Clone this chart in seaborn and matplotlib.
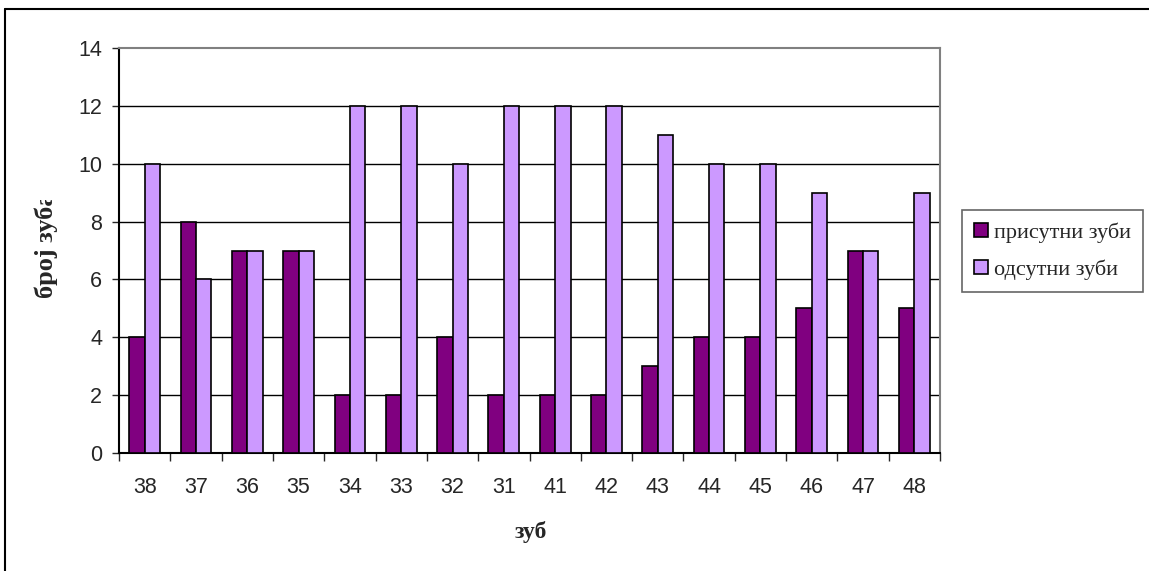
import matplotlib
matplotlib.use("Agg")
import matplotlib.pyplot as plt
import seaborn as sns
import pandas as pd
import numpy as np
from matplotlib.lines import Line2D
from matplotlib.patches import Rectangle

teeth = ["38", "37", "36", "35", "34", "33", "32", "31",
         "41", "42", "43", "44", "45", "46", "47", "48"]
present = [4, 8, 7, 7, 2, 2, 4, 2, 2, 2, 3, 4, 4, 5, 7, 5]
absent = [10, 6, 7, 7, 12, 12, 10, 12, 12, 12, 11, 10, 10, 9, 7, 9]
series_names = ["присутни зуби", "одсутни зуби"]
colors = ["#800080", "#CC99FF"]

df = pd.DataFrame({
    "зуб": teeth * 2,
    "број": present + absent,
    "серија": [series_names[0]] * len(teeth) + [series_names[1]] * len(teeth),
})

sns.set_style("white")
plt.rcParams["font.family"] = ["Liberation Sans", "DejaVu Sans"]

W, H = 1149, 571
fig = plt.figure(figsize=(W / 100, H / 100), dpi=100)
ax = fig.add_axes([119 / W, 1 - 453 / H, (940 - 119) / W, (453 - 48) / H])

sns.barplot(data=df, x="зуб", y="број", hue="серија", order=teeth,
            hue_order=series_names, palette=colors, width=0.6, gap=0,
            edgecolor="black", linewidth=1.2, saturation=1, ax=ax,
            legend=False, zorder=3)

ax.set_xlim(-0.5, len(teeth) - 0.5)
ax.set_ylim(0, 14)
ax.set_yticks(np.arange(0, 15, 2))
ax.tick_params(axis="y", labelsize=15.5, length=5, width=1, direction="out", left=True, pad=7)
ax.set_xticks(np.arange(len(teeth)))
ax.set_xticklabels(teeth)
ax.set_xticks(np.arange(-0.5, len(teeth)), minor=True)
ax.tick_params(axis="x", which="major", length=0, labelsize=15.5, pad=17)
ax.tick_params(axis="x", which="minor", length=6, width=1, direction="out", bottom=True)

for y in range(2, 14, 2):
    ax.axhline(y, color="black", linewidth=1, zorder=1)

ax.spines["left"].set_color("black")
ax.spines["bottom"].set_color("black")
ax.spines["top"].set_color("#808080")
ax.spines["right"].set_color("#808080")
for s in ax.spines.values():
    s.set_linewidth(1.5)
    s.set_visible(True)

ax.set_xlabel("")
ax.set_ylabel("")

fig.text(531 / W, 1 - 532 / H, "зуб", ha="center", va="center",
         fontsize=17, fontweight="bold", family="Liberation Serif")

# value-axis title; its upper end is cut off by the chart layout
fig.text(46 / W, 1 - 298 / H, "број зуба", ha="center", va="bottom",
         rotation=90, fontsize=19, fontweight="bold", family="Liberation Serif",
         zorder=1)
fig.add_artist(Rectangle((20 / W, 1 - 200 / H), 50 / W, 180 / H, transform=fig.transFigure,
                         facecolor="white", edgecolor="none", zorder=2))

handles = [Rectangle((0, 0), 1, 1, facecolor=c, edgecolor="black", linewidth=1.2) for c in colors]
leg = fig.legend(handles, series_names, loc="upper left",
                 bbox_to_anchor=(962 / W, 1 - 210 / H), frameon=True, fancybox=False,
                 prop={"family": "Liberation Serif", "size": 16},
                 handlelength=0.6, handleheight=0.6, handletextpad=0.3,
                 borderpad=0.55, labelspacing=0.75, borderaxespad=0)
leg.get_frame().set_edgecolor("#404040")
leg.get_frame().set_linewidth(1.2)

fig.add_artist(Line2D([5 / W, 5 / W], [0, 1 - 9 / H], transform=fig.transFigure,
                      color="black", linewidth=1.5, zorder=3))
fig.add_artist(Line2D([5 / W, 1], [1 - 9 / H, 1 - 9 / H], transform=fig.transFigure,
                      color="black", linewidth=1.5, zorder=3))

fig.savefig("out.png", dpi=100)
